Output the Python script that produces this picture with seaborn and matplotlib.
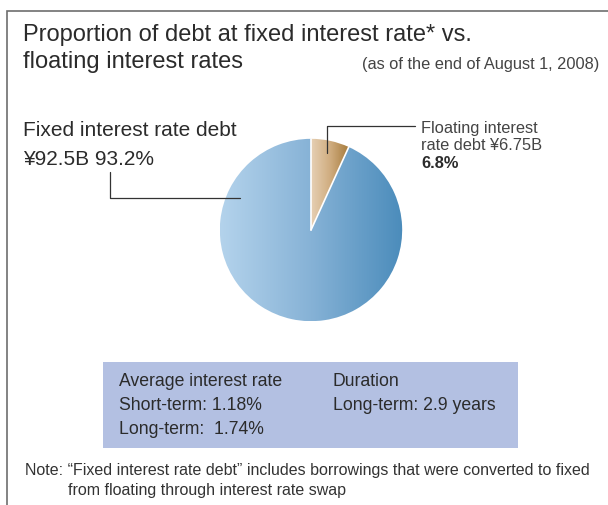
import numpy as np
import matplotlib
matplotlib.use("Agg")
import matplotlib.pyplot as plt
import seaborn as sns
from matplotlib.patches import Rectangle
from matplotlib.lines import Line2D

# ---- data ----
categories = ["Floating interest rate debt", "Fixed interest rate debt"]
shares = [6.8, 93.2]
amounts = ["¥6.75B", "¥92.5B"]
short_term_rate = "1.18%"
long_term_rate = "1.74%"
duration_long = "2.9 years"

sns.set_theme(style="white")
plt.rcParams['font.family'] = ['Liberation Sans', 'DejaVu Sans']

W, H = 608, 505
fig = plt.figure(figsize=(W / 100, H / 100), dpi=100)
fig.patch.set_facecolor("white")


def P(x, y):
    return (x / W, 1 - y / H)


# frame
fig.patches.append(Rectangle(P(7, 520), (620 - 7) / W, (520 - 11) / H,
                             transform=fig.transFigure, fill=False,
                             edgecolor="#6e6e6e", linewidth=1.2))

# pie axes
cx, cy, r = 311, 230, 93
ax = fig.add_axes([(cx - r) / W, (H - (cy + r)) / H, 2 * r / W, 2 * r / H])
ax.set_aspect("equal")
wedges, _ = ax.pie(shares, startangle=90, counterclock=False,
                   colors=["none", "none"],
                   wedgeprops=dict(linewidth=0))

fixed_cmap = sns.blend_palette(["#b4d3ec", "#86b2d6", "#4b8cbb"], as_cmap=True)
float_cmap = sns.blend_palette(["#e6d0b4", "#d0ad80", "#a67b3c"], as_cmap=True)
grad = np.linspace(0, 1, 256).reshape(1, -1)

im1 = ax.imshow(grad, cmap=fixed_cmap, extent=(-1, 1, -1, 1), aspect="auto",
                interpolation="bicubic", zorder=1)
im1.set_clip_path(wedges[1])
ang = np.deg2rad(90 - 360 * shares[0] / 100)
im2 = ax.imshow(grad, cmap=float_cmap, extent=(0, np.cos(ang), 0, 1),
                aspect="auto", interpolation="bicubic", zorder=1)
im2.set_clip_path(wedges[0])
ax.set_xlim(-1.02, 1.02)
ax.set_ylim(-1.02, 1.02)
# white separators
ax.plot([0, 0], [0, 1], color="white", lw=1.2, zorder=3)
ax.plot([0, np.cos(ang)], [0, np.sin(ang)], color="white", lw=1.2, zorder=3)
ax.axis("off")

# leader lines
def fig_line(pts):
    xs = [p[0] / W for p in pts]
    ys = [1 - p[1] / H for p in pts]
    fig.lines.append(Line2D(xs, ys, transform=fig.transFigure,
                            color="#333333", lw=0.9, zorder=5))

fig_line([(327, 153), (327, 126), (415, 126)])
fig_line([(110, 172), (110, 198), (240, 198)])

tc = "#2b2b2b"
# title
fs_title = 17
fig.text(*P(23, 35), "Proportion of debt at fixed interest rate* vs.",
         fontsize=fs_title, color=tc, va="center", ha="left")
fig.text(*P(23, 62), "floating interest rates",
         fontsize=fs_title, color=tc, va="center", ha="left")
fig.text(*P(599, 65), "(as of the end of August 1, 2008)",
         fontsize=11.8, color="#444444", va="center", ha="right")

# labels
fig.text(*P(23, 131), "Fixed interest rate debt", fontsize=15, color=tc,
         va="center", ha="left")
fig.text(*P(23, 159), f"{amounts[1]} {shares[1]}%", fontsize=15, color=tc,
         va="center", ha="left")

fs_fl = 11.8
fig.text(*P(421, 128), "Floating interest", fontsize=fs_fl, color="#444444",
         va="center", ha="left")
fig.text(*P(421, 145), f"rate debt {amounts[0]}", fontsize=fs_fl,
         color="#444444", va="center", ha="left")
fig.text(*P(421, 163), f"{shares[0]}%", fontsize=fs_fl, color=tc,
         fontweight="bold", va="center", ha="left")

# info box
fig.patches.append(Rectangle(P(103, 448), (518 - 103) / W, (448 - 362) / H,
                             transform=fig.transFigure, facecolor="#b3c0e2",
                             edgecolor="none"))
fs_box = 12.7
fig.text(*P(119, 382), "Average interest rate", fontsize=fs_box, color=tc,
         va="center", ha="left")
fig.text(*P(119, 406), f"Short-term: {short_term_rate}", fontsize=fs_box,
         color=tc, va="center", ha="left")
fig.text(*P(119, 429), f"Long-term:  {long_term_rate}", fontsize=fs_box,
         color=tc, va="center", ha="left")
fig.text(*P(333, 382), "Duration", fontsize=fs_box, color=tc,
         va="center", ha="left")
fig.text(*P(333, 406), f"Long-term: {duration_long}", fontsize=fs_box,
         color=tc, va="center", ha="left")

# note
fs_note = 11.5
fig.text(*P(25, 471),
         "Note: \u201cFixed interest rate debt\u201d includes borrowings that were converted to fixed",
         fontsize=fs_note, color="#333333", va="center", ha="left")
fig.text(*P(68, 490), "from floating through interest rate swap",
         fontsize=fs_note, color="#333333", va="center", ha="left")

fig.savefig("out.png", dpi=100)
